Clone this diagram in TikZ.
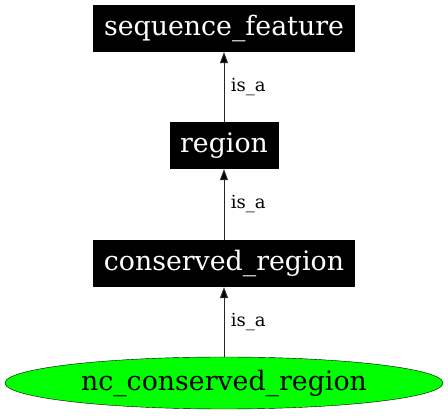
\documentclass[tikz,border=0pt]{standalone}
\usepackage{fontspec}
\setmainfont{DejaVu Serif}
\usetikzlibrary{shapes.geometric,arrows.meta}
\begin{document}
\begin{tikzpicture}[x=1pt,y=-1pt,
  term/.style={fill=black,text=white,inner sep=0pt,font=\fontsize{26.8}{30}\selectfont},
  leaf/.style={ellipse,draw=black,fill=green,inner sep=0pt,minimum width=438pt,minimum height=52pt,font=\fontsize{26.8}{30}\selectfont},
  isa/.style={draw=black!85,line width=1pt,-{Triangle[length=11pt,width=8pt,fill=black]}},
  lab/.style={font=\fontsize{18}{21}\selectfont,anchor=west}]
\useasboundingbox (0,0) rectangle (448,419);
\node[term,minimum width=262pt,minimum height=47pt] (sf) at (224,28.5) {sequence\_feature};
\node[term,minimum width=109pt,minimum height=47pt] (rg) at (224,145.5) {region};
\node[term,minimum width=262pt,minimum height=47pt] (cr) at (224,263.5) {conserved\_region};
\node[leaf] (nc) at (224,383) {nc\_conserved\_region};
\draw[isa] (rg) -- node[lab,pos=0.5,xshift=3pt] {is\_a} (sf);
\draw[isa] (cr) -- node[lab,pos=0.5,xshift=3pt] {is\_a} (rg);
\draw[isa] (nc) -- node[lab,pos=0.5,xshift=3pt] {is\_a} (cr);
\end{tikzpicture}
\end{document}
